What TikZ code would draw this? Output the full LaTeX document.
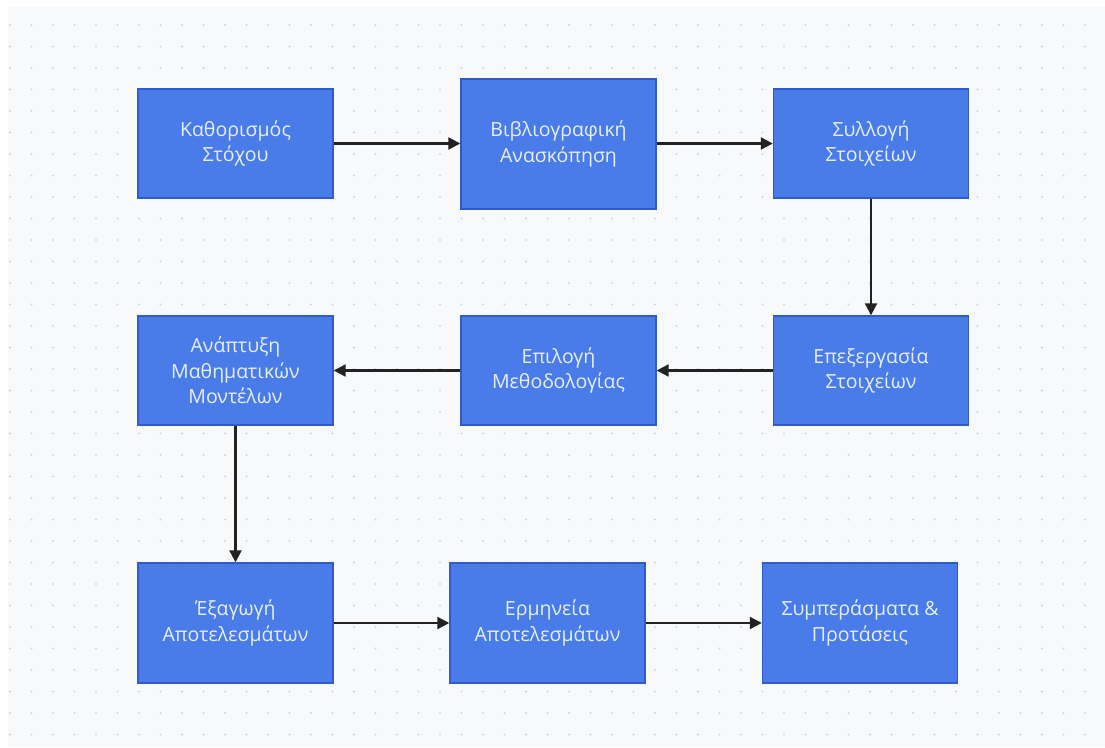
\documentclass[tikz,border=0pt]{standalone}
\usepackage{fontspec}
\setmainfont{Open Sans}
\usepackage{xcolor}
\usetikzlibrary{arrows.meta}

\definecolor{PageGray}{HTML}{F8F9FB}
\definecolor{DotGray}{HTML}{D2D5DA}
\definecolor{BoxBlue}{HTML}{4A7CE9}
\definecolor{BoxEdge}{HTML}{2F5CC8}
\definecolor{BoxText}{HTML}{E6EFFF}
\definecolor{WireBlack}{HTML}{222222}

\begin{document}
\begin{tikzpicture}[
        % Environment Config
        x=1pt, y=-1pt,
        font=\fontsize{19.5}{25.5}\selectfont,
        StepBox/.style={% Style for the process steps
          draw=BoxEdge,
          fill=BoxBlue,
          text=BoxText,
          line width=1.4pt,
          align=center,
          minimum width=195pt,
          minimum height=109pt,
          inner sep=0pt
        },
        TallBox/.style={% Taller variant
          StepBox,
          minimum height=#1
        },
        Flow/.style={% Style for the connectors
          -{Triangle[length=12pt,width=12pt]},
          WireBlack,
          line width=2.2pt
        }
      ]

      % Canvas
      \useasboundingbox (0,0) rectangle (1105,747);
      \fill[white] (0,0) rectangle (1105,747);
      \fill[PageGray] (8,7) rectangle (1105,747);
      \foreach \i in {0,...,50}
        \foreach \j in {0,...,33}
          \fill[DotGray] (10+\i*21.5, 25+\j*21.5) circle (1.1);

      %===Row 1===
      \node[StepBox] (Goal) at (235.5,143.5) {Καθορισμός\\Στόχου};
      \node[TallBox=130pt] (Review) at (558.5,144) {Βιβλιογραφική\\Ανασκόπηση};
      \node[StepBox] (Collect) at (871,143.5) {Συλλογή\\Στοιχείων};

      %===Row 2===
      \node[StepBox] (Models) at (235.5,370.5) {Ανάπτυξη\\Μαθηματικών\\Μοντέλων};
      \node[StepBox] (Method) at (558.5,370.5) {Επιλογή\\Μεθοδολογίας};
      \node[StepBox] (Process) at (871,370.5) {Επεξεργασία\\Στοιχείων};

      %===Row 3===
      \node[TallBox=120pt] (Extract) at (235.5,623) {Έξαγωγή\\Αποτελεσμάτων};
      \node[TallBox=120pt] (Interpret) at (547.5,623) {Ερμηνεία\\Αποτελεσμάτων};
      \node[TallBox=120pt] (Conclude) at (860,623) {Συμπεράσματα \&\\Προτάσεις};

      % Draw the flow
      \draw[Flow] (Goal) -- (Goal -| Review.west);
      \draw[Flow] (Review.east |- Goal) -- (Collect);
      \draw[Flow] (Collect) -- (Process);
      \draw[Flow] (Process) -- (Method);
      \draw[Flow] (Method) -- (Models);
      \draw[Flow] (Models) -- (Extract);
      \draw[Flow] (Extract) -- (Interpret);
      \draw[Flow] (Interpret) -- (Conclude);

      \end{tikzpicture}
\end{document}
